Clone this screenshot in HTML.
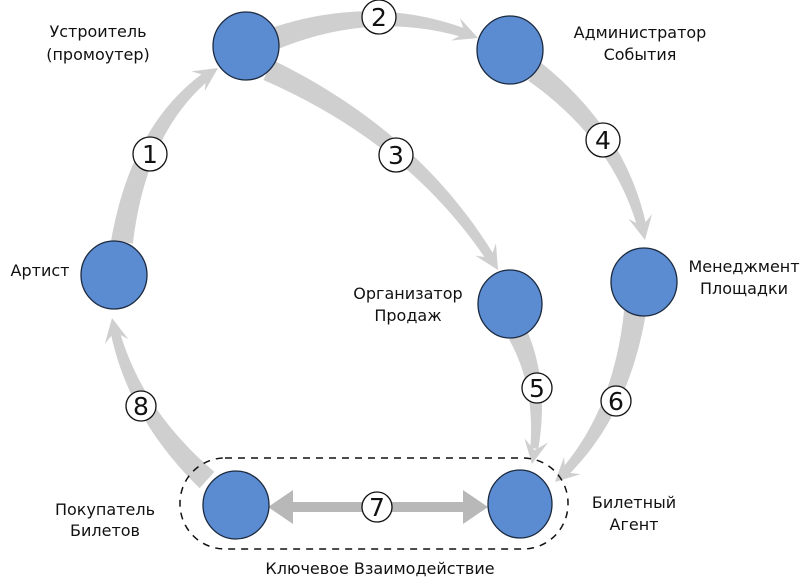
<!DOCTYPE html>
<html><head><meta charset="utf-8"><style>
body{margin:0;background:#fff;width:800px;height:579px;overflow:hidden}
svg text{font-family:"DejaVu Sans","Liberation Sans",sans-serif;fill:#111}
</style></head><body>
<svg id="s" width="800" height="579" viewBox="0 0 800 579" xmlns="http://www.w3.org/2000/svg">
<g id="arrows" fill="#cfcfcf"></g>
<line x1="290" y1="507" x2="468" y2="507" stroke="#b8b8b8" stroke-width="10"/>
<polygon points="268,507 293,490 293,524" fill="#b8b8b8"/>
<polygon points="488,507 463,490 463,524" fill="#b8b8b8"/>
<rect x="180" y="458" width="388" height="91" rx="45" fill="none" stroke="#111" stroke-width="1.5" stroke-dasharray="7,6"/>
<g fill="#5b8cd1" stroke="#1c2a40" stroke-width="1.3">
<ellipse cx="246" cy="46" rx="33" ry="34"/>
<ellipse cx="510" cy="50" rx="33" ry="34"/>
<ellipse cx="114" cy="275" rx="33" ry="34"/>
<ellipse cx="644" cy="282" rx="33" ry="34"/>
<ellipse cx="510" cy="304" rx="32" ry="34"/>
<ellipse cx="236" cy="505" rx="33" ry="34"/>
<ellipse cx="520" cy="504" rx="32" ry="34"/>
</g>
<g fill="#fff" stroke="#111" stroke-width="1.3">
<circle cx="150" cy="154" r="17"/><circle cx="379" cy="17" r="17"/>
<circle cx="396" cy="155" r="17"/><circle cx="603" cy="140" r="17"/>
<circle cx="537" cy="388" r="15"/><circle cx="616" cy="401" r="15"/>
<circle cx="377" cy="507" r="15"/><circle cx="141" cy="406" r="15"/>
</g>
<g font-size="25" text-anchor="middle">
<text x="150" y="163">1</text><text x="379" y="26">2</text>
<text x="396" y="164">3</text><text x="603" y="149">4</text>
<text x="537" y="397">5</text><text x="616" y="410">6</text>
<text x="377" y="516">7</text><text x="141" y="415">8</text>
</g>
<g font-size="16" text-anchor="middle">
<text x="98" y="37">Устроитель</text><text x="98" y="60">(промоутер)</text>
<text x="640" y="38">Администратор</text><text x="640" y="60">События</text>
<text x="40" y="276">Артист</text>
<text x="744" y="272">Менеджмент</text><text x="744" y="294">Площадки</text>
<text x="408" y="299">Организатор</text><text x="408" y="321">Продаж</text>
<text x="105" y="515">Покупатель</text><text x="105" y="536">Билетов</text>
<text x="634" y="508">Билетный</text><text x="634" y="530">Агент</text>
<text x="380" y="574">Ключевое Взаимодействие</text>
</g>
</svg>
<script>
function arrow(p0,c,p1,w0,w1,hw,hl){
 function pt(t){var u=1-t;return[u*u*p0[0]+2*u*t*c[0]+t*t*p1[0],u*u*p0[1]+2*u*t*c[1]+t*t*p1[1]];}
 function tg(t){var x=2*(1-t)*(c[0]-p0[0])+2*t*(p1[0]-c[0]),y=2*(1-t)*(c[1]-p0[1])+2*t*(p1[1]-c[1]);var l=Math.hypot(x,y);return[x/l,y/l];}
 var d=tg(1),n=[-d[1],d[0]];
 var L=0,prev=p0,N=60;for(var i=1;i<=N;i++){var q=pt(i/N);L+=Math.hypot(q[0]-prev[0],q[1]-prev[1]);prev=q;}
 var tEnd=1-(hl*0.7)/L;
 var a=[],b=[];
 for(var i=0;i<=N;i++){var t=tEnd*i/N,q=pt(t),g=tg(t),w=(w0+(w1-w0)*i/N)/2;
  a.push((q[0]-g[1]*w)+","+(q[1]+g[0]*w));b.unshift((q[0]+g[1]*w)+","+(q[1]-g[0]*w));}
 var tip=p1,bs=[p1[0]-d[0]*hl,p1[1]-d[1]*hl],nt=[p1[0]-d[0]*hl*0.7,p1[1]-d[1]*hl*0.7];
 var h=[tip,[bs[0]+n[0]*hw-d[0]*4,bs[1]+n[1]*hw-d[1]*4],nt,[bs[0]-n[0]*hw-d[0]*4,bs[1]-n[1]*hw-d[1]*4]].map(function(p){return p.join(",")}).join(" ");
 var g=document.getElementById("arrows");
 var P=document.createElementNS("http://www.w3.org/2000/svg","polygon");P.setAttribute("points",a.concat(b).join(" "));g.appendChild(P);
 var H=document.createElementNS("http://www.w3.org/2000/svg","polygon");H.setAttribute("points",h);g.appendChild(H);
}
arrow([122,242],[140,120],[218,68],22,9,12,20);
arrow([276,38],[380,0],[478,38],22,9,12,20);
arrow([268,70],[420,140],[498,270],22,9,12,20);
arrow([535,72],[625,140],[645,240],22,9,12,20);
arrow([518,335],[545,390],[532,464],20,8,12,20);
arrow([635,312],[620,420],[555,482],22,9,12,20);
arrow([207,480],[130,410],[112,318],22,9,12,20);
</script>
</body></html>
